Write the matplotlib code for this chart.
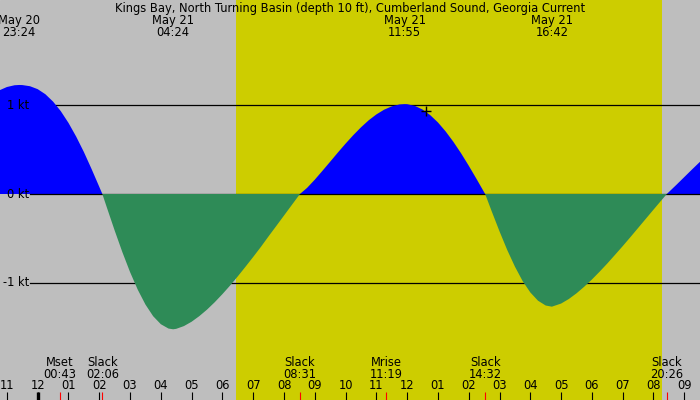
import numpy as np
import matplotlib
matplotlib.use("Agg")
import matplotlib.pyplot as plt
import matplotlib.transforms as mtransforms

# tidal current, hours after midnight of May 21
# (negative hours = evening of May 20), knots (+ flood, - ebb)
curve_hours = [-1.25, -1.0, -0.75, -0.6, -0.5, -0.25, 0.0, 0.25, 0.5, 0.75,
               1.0, 1.25, 1.5, 1.75, 2.0, 2.1,
               2.25, 2.5, 2.75, 3.0, 3.25, 3.5, 3.75, 4.0, 4.25, 4.4,
               4.5, 4.75, 5.0, 5.25, 5.5, 5.75, 6.0, 6.25, 6.5, 6.75,
               7.0, 7.25, 7.5, 7.75, 8.0, 8.25, 8.517,
               8.75, 9.0, 9.25, 9.5, 9.75, 10.0, 10.25, 10.5, 10.75,
               11.0, 11.25, 11.5, 11.75, 11.917,
               12.0, 12.25, 12.5, 12.75, 13.0, 13.25, 13.5, 13.75, 14.0,
               14.25, 14.533,
               14.75, 15.0, 15.25, 15.5, 15.75, 16.0, 16.25, 16.5, 16.7,
               17.0, 17.25, 17.5, 17.75, 18.0, 18.25, 18.5, 18.75, 19.0,
               19.25, 19.5, 19.75, 20.0, 20.25, 20.433,
               20.75, 21.0, 21.25, 21.55]
curve_knots = [1.164, 1.202, 1.222, 1.225, 1.224, 1.211, 1.178, 1.121, 1.038, 0.931,
               0.799, 0.645, 0.472, 0.281, 0.081, 0.0,
               -0.155, -0.410, -0.653, -0.877, -1.075, -1.242, -1.373, -1.463, -1.512, -1.52,
               -1.515, -1.484, -1.435, -1.372, -1.299, -1.216, -1.125, -1.028, -0.925, -0.817,
               -0.707, -0.594, -0.475, -0.359, -0.242, -0.125, 0.0,
               0.069, 0.161, 0.261, 0.363, 0.466, 0.566, 0.661, 0.749, 0.828,
               0.894, 0.947, 0.985, 1.006, 1.01,
               1.009, 0.990, 0.949, 0.886, 0.804, 0.703, 0.587, 0.458, 0.318,
               0.171, 0.0,
               -0.198, -0.420, -0.629, -0.816, -0.978, -1.106, -1.199, -1.253, -1.266,
               -1.231, -1.180, -1.116, -1.042, -0.961, -0.873, -0.781, -0.684, -0.586,
               -0.485, -0.382, -0.279, -0.176, -0.074, 0.0,
               0.105, 0.19, 0.275, 0.375]

# times of maximum current (top labels)
max_dates = ["May 20", "May 21", "May 21", "May 21"]
max_clock = ["23:24", "04:24", "11:55", "16:42"]

# events along the bottom
event_names = ["Mset", "Slack", "Slack", "Mrise", "Slack", "Slack"]
event_clock = ["00:43", "02:06", "08:31", "11:19", "14:32", "20:26"]

hour_ticks = list(range(-1, 22))
hour_labels = ["11", "12", "01", "02", "03", "04", "05", "06", "07", "08",
               "09", "10", "11", "12", "01", "02", "03", "04", "05", "06",
               "07", "08", "09"]

speed_levels = [1, 0, -1]
speed_labels = ["1 kt", "0 kt", "-1 kt"]

sunrise = "06:26"
sunset = "20:16"
now_clock = "12:36"
now_knots = 0.935

title = "Kings Bay, North Turning Basin (depth 10 ft), Cumberland Sound, Georgia Current"


def to_hours(clock, date="May 21"):
    h, m = clock.split(":")
    h = int(h) + int(m) / 60.
    if date == "May 20":
        h -= 24
    return h


W, H = 700, 400
fig = plt.figure(figsize=(7, 4), dpi=100)
ax = fig.add_axes([0, 0, 1, 1])
ax.set_xlim(-1.224, 21.511)
ax.set_ylim(-206 / 89., 194 / 89.)
ax.axis("off")
ax.add_patch(plt.Rectangle((0, 0), 1, 1, transform=ax.transAxes,
                           color="#bebebe", zorder=0))

# daylight
ax.axvspan(to_hours(sunrise), to_hours(sunset), color="#cdcd00", lw=0, zorder=0.5)

t = np.array(curve_hours)
v = np.array(curve_knots)

for lev in speed_levels:
    ax.axhline(lev, xmin=30. / W, xmax=1, color="black", lw=0.9,
               zorder=1 if lev != 0 else 2.5)

ax.fill_between(t, 0, v, where=v >= 0, interpolate=True, color="#0000ff",
                lw=0, zorder=2)
ax.fill_between(t, 0, v, where=v <= 0, interpolate=True, color="#2e8b57",
                lw=0, zorder=3)

ax.plot([to_hours(now_clock)], [now_knots], marker="+", ms=7, mew=1,
        color="black", zorder=4)

fs = 8.3
top = mtransforms.blended_transform_factory(ax.transData, ax.transAxes)


def ypx(p):
    return 1 - p / float(H)


ax.text(0.5, ypx(11.7), title, transform=ax.transAxes, ha="center",
        va="baseline", fontsize=fs, zorder=5)

for d, c in zip(max_dates, max_clock):
    x = to_hours(c, d)
    ax.text(x, ypx(24.3), d, transform=top, ha="center", va="baseline",
            fontsize=fs, zorder=5)
    ax.text(x, ypx(36), c, transform=top, ha="center", va="baseline",
            fontsize=fs, zorder=5)

for n, c in zip(event_names, event_clock):
    x = to_hours(c)
    ax.text(x, ypx(366), n, transform=top, ha="center", va="baseline",
            fontsize=fs, zorder=5)
    ax.text(x, ypx(377.7), c, transform=top, ha="center", va="baseline",
            fontsize=fs, zorder=5)

for h, lab in zip(hour_ticks, hour_labels):
    ax.text(h, ypx(389.3), lab, transform=top, ha="center", va="baseline",
            fontsize=fs, zorder=5)

tick_len = 8. / H
ax.vlines(hour_ticks, 0, tick_len, transform=top, color="black", lw=0.8,
          zorder=5)
ax.vlines([0], 0, tick_len, transform=top, color="black", lw=2.4, zorder=5)
ax.vlines([to_hours(c) for c in event_clock], 0, tick_len, transform=top,
          color="red", lw=0.8, zorder=5)

side = mtransforms.blended_transform_factory(ax.transAxes, ax.transData)
for lev, lab in zip(speed_levels, speed_labels):
    ax.text(29. / W, lev, lab, transform=side, ha="right", va="center",
            fontsize=fs, zorder=5)

fig.savefig("out.png", dpi=100)
